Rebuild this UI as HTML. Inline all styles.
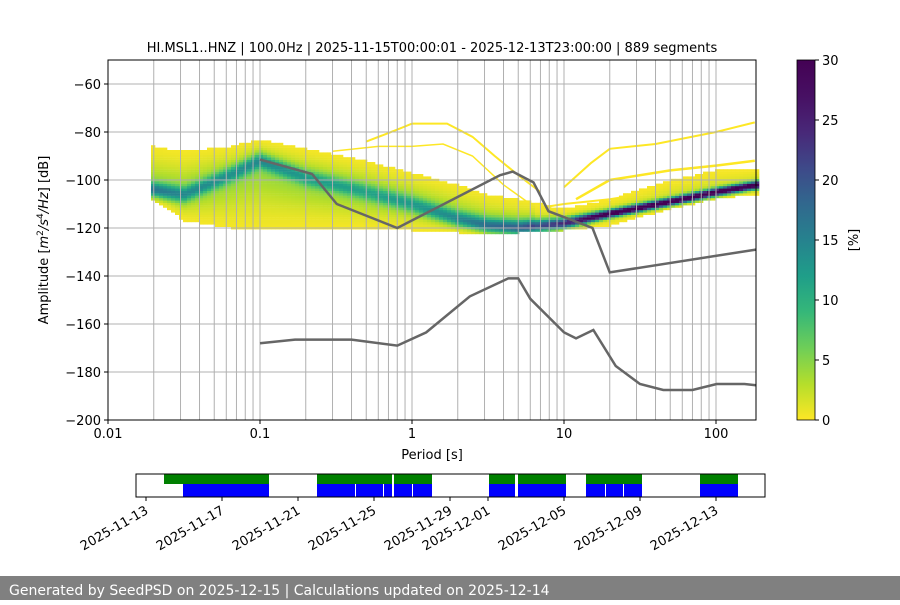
<!DOCTYPE html>
<html><head><meta charset="utf-8"><style>
body{margin:0;width:900px;height:600px;background:#fff;overflow:hidden;font-family:"Liberation Sans","DejaVu Sans",sans-serif}
svg text{font-family:"DejaVu Sans","Liberation Sans",sans-serif}
</style></head><body>
<svg id="s" width="900" height="600" xmlns="http://www.w3.org/2000/svg">
<defs>
<linearGradient id="cb" x1="0" y1="1" x2="0" y2="0">
<stop offset="0" stop-color="#fde725"/><stop offset="0.1" stop-color="#b5de2b"/><stop offset="0.2" stop-color="#6ece58"/><stop offset="0.3" stop-color="#35b779"/><stop offset="0.4" stop-color="#1f9e89"/><stop offset="0.5" stop-color="#26828e"/><stop offset="0.6" stop-color="#31688e"/><stop offset="0.7" stop-color="#3e4989"/><stop offset="0.8" stop-color="#482878"/><stop offset="0.9" stop-color="#471063"/><stop offset="1" stop-color="#440154"/>
</linearGradient>
</defs>
<g id="heat"></g>
<g id="grid"></g>
<g id="lines"></g>
<rect x="108" y="60" width="648" height="360" fill="none" stroke="#000" stroke-width="1"/>
<g id="ticks" font-size="13"></g>
<text x="432" y="52" font-size="13" text-anchor="middle">HI.MSL1..HNZ | 100.0Hz | 2025-11-15T00:00:01 - 2025-12-13T23:00:00 | 889 segments</text>
<text x="432" y="459" font-size="13" text-anchor="middle">Period [s]</text>
<text transform="translate(48,240) rotate(-90)" font-size="13" text-anchor="middle">Amplitude [<tspan font-style="italic">m</tspan><tspan font-size="9" dy="-5">2</tspan><tspan dy="5" font-style="italic">/s</tspan><tspan font-size="9" dy="-5">4</tspan><tspan dy="5" font-style="italic">/Hz</tspan>] [dB]</text>
<rect x="797" y="60" width="18" height="360" fill="url(#cb)" stroke="#000" stroke-width="0.8"/>
<g font-size="13">
<line x1="815" y1="420" x2="819" y2="420" stroke="#000"/><text x="822" y="425">0</text>
<line x1="815" y1="360" x2="819" y2="360" stroke="#000"/><text x="822" y="365">5</text>
<line x1="815" y1="300" x2="819" y2="300" stroke="#000"/><text x="822" y="305">10</text>
<line x1="815" y1="240" x2="819" y2="240" stroke="#000"/><text x="822" y="245">15</text>
<line x1="815" y1="180" x2="819" y2="180" stroke="#000"/><text x="822" y="185">20</text>
<line x1="815" y1="120" x2="819" y2="120" stroke="#000"/><text x="822" y="125">25</text>
<line x1="815" y1="60" x2="819" y2="60" stroke="#000"/><text x="822" y="65">30</text>
<text transform="translate(858,240) rotate(-90)" text-anchor="middle">[%]</text>
</g>
<g id="tl"></g>
<rect x="136" y="474" width="629" height="23" fill="none" stroke="#000" stroke-width="1"/>
<rect x="0" y="576" width="900" height="24" fill="#808080"/>
<text x="9" y="595" font-size="14" fill="#fff">Generated by SeedPSD on 2025-12-15 | Calculations updated on 2025-12-14</text>
</svg>
<script>
const NS="http://www.w3.org/2000/svg";
function el(p,t,a){const e=document.createElementNS(NS,t);for(const k in a)e.setAttribute(k,a[k]);p.appendChild(e);return e;}
const X=T=>108+152*(Math.log10(T)+2);
const Y=d=>60+(-50-d)*2.4;
const g=document.getElementById('grid'),tk=document.getElementById('ticks');
for(let e=-2;e<=2;e++)for(let m=2;m<=9;m++){const T=m*Math.pow(10,e);const x=X(T);if(x>756)continue;el(g,'line',{x1:x,y1:60,x2:x,y2:420,stroke:'#b0b0b0','stroke-width':1});}
for(let e=-1;e<=2;e++){const x=X(Math.pow(10,e));el(g,'line',{x1:x,y1:60,x2:x,y2:420,stroke:'#b0b0b0','stroke-width':1});}
for(let d=-60;d>=-200;d-=20){const y=Y(d);if(d>-200)el(g,'line',{x1:108,y1:y,x2:756,y2:y,stroke:'#b0b0b0','stroke-width':1});
el(tk,'line',{x1:104,y1:y,x2:108,y2:y,stroke:'#000'});const t=el(tk,'text',{x:101,y:y+5,'text-anchor':'end'});t.textContent='\u2212'+(-d);}
[[0.01,'0.01'],[0.1,'0.1'],[1,'1'],[10,'10'],[100,'100']].forEach(([T,s])=>{const x=X(T);el(tk,'line',{x1:x,y1:420,x2:x,y2:424,stroke:'#000'});const t=el(tk,'text',{x:x,y:438,'text-anchor':'middle'});t.textContent=s;});
const V=[[253,231,37],[181,222,43],[110,206,88],[53,183,121],[31,158,137],[38,130,142],[49,104,142],[62,73,137],[72,40,120],[71,16,99],[68,1,84]];
function col(v){let f=Math.max(0,Math.min(1,v/30))*10;const i=Math.min(9,Math.floor(f));const r=f-i;const a=V[i],b=V[i+1];return `rgb(${a.map((c,k)=>Math.round(c+(b[k]-c)*r)).join(',')})`;}
const P=[-1.7,-1.5,-1.2,-1,-0.7,-0.3,0,0.3,0.5,0.7,1,1.3,1.7,2,2.27];
const M=[-104,-106,-98,-92,-99,-105,-110,-116,-119,-120,-118,-114,-109,-105,-102];
const U=[-86,-88,-86,-83,-87,-92,-97,-102,-106,-108,-112,-108,-100,-96,-95];
const B=[-108,-117,-120,-121,-120,-120,-121,-122,-122,-122,-121,-119,-112,-108,-106];
const K=[12,10,9,10,8,7,8,10,13,15,22,32,32,32,32];
const Wd=[3,3,3,3,3,3,3,3,3,3,2,1.5,1.5,1.5,1.5];
function itp(arr,l){if(l<=P[0])return arr[0];for(let i=1;i<P.length;i++)if(l<=P[i]){const r=(l-P[i-1])/(P[i]-P[i-1]);return arr[i-1]+(arr[i]-arr[i-1])*r;}return arr[arr.length-1];}
const h=document.getElementById('heat');
function poly(pts,c,w){el(h,'polyline',{points:pts.map(([T,d])=>X(T)+','+Y(d)).join(' '),fill:'none',stroke:c,'stroke-width':w});}
poly([[0.5,-84],[0.8,-79],[1,-76.5],[1.7,-76.5],[2.5,-82],[3.5,-90],[5,-98],[7,-105]],'#fde725',2);
poly([[0.3,-88],[0.6,-86],[1,-86],[1.6,-85],[2.5,-90],[4,-102],[6,-110]],'#fde725',1.5);
poly([[10,-103],[15,-93],[20,-87],[40,-85],[100,-80],[180,-76]],'#fde725',2);
poly([[12,-108],[20,-100],[50,-96],[100,-94],[180,-92]],'#fde725',2.5);
poly([[5,-113],[10,-110],[20,-108],[50,-104],[100,-100]],'#fde725',2);
for(let x=151;x<756;x+=4){const l=(x+2-108)/152-2;const m=itp(M,l),u=itp(U,l),b=itp(B,l),k=itp(K,l),w=itp(Wd,l);
const base=l<0.8?4.5:2.5;
for(let d=Math.ceil(b);d<=Math.floor(u);d++){const W=d>m?(u-m)/1.6:(m-b)/1.6;let v=base*Math.exp(-Math.pow((d-m)/Math.max(W,1),2))+k*Math.exp(-Math.pow((d-m)/w,2));v=Math.max(v,0.3);
el(h,'rect',{x:x,y:Y(d)-1.2,width:4.3,height:2.6,fill:col(v)});}}
const ln=document.getElementById('lines');
function gl(pts){el(ln,'polyline',{points:pts.map(([T,d])=>X(T)+','+Y(d)).join(' '),fill:'none',stroke:'#666','stroke-width':2.5});}
gl([[0.1,-91.5],[0.22,-97.5],[0.32,-110],[0.8,-120],[3.8,-98],[4.6,-96.5],[6.3,-101],[7.9,-113],[15.4,-120],[20,-138.5],[183,-129]]);
gl([[0.1,-168],[0.17,-166.5],[0.4,-166.5],[0.8,-169],[1.24,-163.5],[2.4,-148.5],[4.3,-141],[5,-141],[6,-149.5],[10,-163.5],[12,-166],[15.6,-162.5],[21.9,-177.5],[31.6,-185],[45,-187.5],[70,-187.5],[101,-185],[154,-185],[183,-185.5]]);
const tl=document.getElementById('tl');
[[164,269],[317,392],[394,432],[489,515],[518,566],[586,642],[700,738]].forEach(([a,b])=>el(tl,'rect',{x:a,y:474,width:b-a,height:10,fill:'#008000'}));
[[183,269],[317,355],[356,383],[384,392],[394,412],[413,432],[489,515],[518,566],[586,605],[606,623],[624,642],[700,738]].forEach(([a,b])=>el(tl,'rect',{x:a,y:484,width:b-a,height:13,fill:'#0000ff'}));
[[146,'2025-11-13'],[222,'2025-11-17'],[298,'2025-11-21'],[374,'2025-11-25'],[450,'2025-11-29'],[488,'2025-12-01'],[564,'2025-12-05'],[640,'2025-12-09'],[716,'2025-12-13']].forEach(([x,s])=>{
el(tl,'line',{x1:x,y1:497,x2:x,y2:501,stroke:'#000'});const t=el(tl,'text',{transform:`translate(${x+3},${513}) rotate(-30)`,'text-anchor':'end','font-size':13});t.textContent=s;});
</script>
</body></html>
